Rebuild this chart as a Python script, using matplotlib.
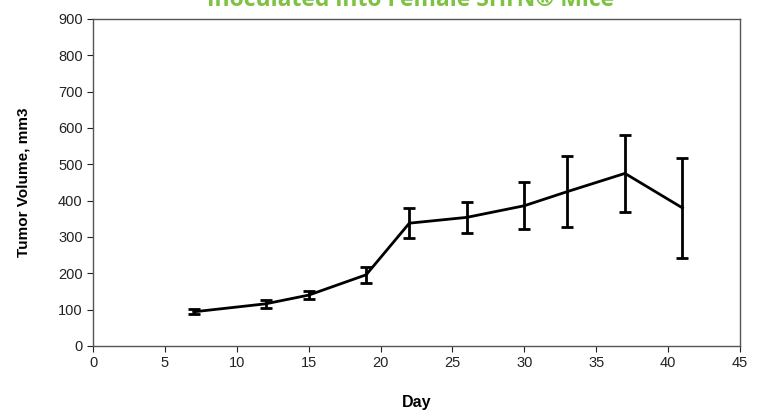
import matplotlib.pyplot as plt

plt.rcParams['font.family'] = ['Liberation Sans', 'DejaVu Sans']

# Dados
dias = [7, 12, 15, 19, 22, 26, 30, 33, 37, 41]
volume = [94, 116, 140, 196, 338, 354, 386, 425, 475, 380]
erro = [7, 11, 10, 22, 41, 42, 65, 97, 105, 138]

fig = plt.figure(figsize=(7.57, 4.11), dpi=100)
ax = fig.add_axes([0.1229, 0.1582, 0.8546, 0.7956])

ax.errorbar(dias, volume, yerr=erro, color='black', lw=2, elinewidth=2,
            capsize=4, capthick=2)

ax.set_xlim(0, 45)
ax.set_ylim(0, 900)
ax.set_xticks(range(0, 46, 5))
ax.set_yticks(range(0, 901, 100))
ax.tick_params(direction='out', length=4, labelsize=10.5, colors='#222222')
for s in ax.spines.values():
    s.set_color('#555555')
    s.set_linewidth(1)

ax.set_xlabel('Day', fontsize=11.5, fontweight='bold', labelpad=18)
ax.set_ylabel('Tumor Volume, mm3', fontsize=11, fontweight='bold', labelpad=20)

fig.text(0.542, 0.985, 'Inoculated into Female SHrN\u00ae Mice', color='#7dc242',
         fontsize=16.5, fontweight='bold', ha='center', va='baseline',
         family=['Open Sans', 'DejaVu Sans'])

fig.savefig('out.png', dpi=100)
